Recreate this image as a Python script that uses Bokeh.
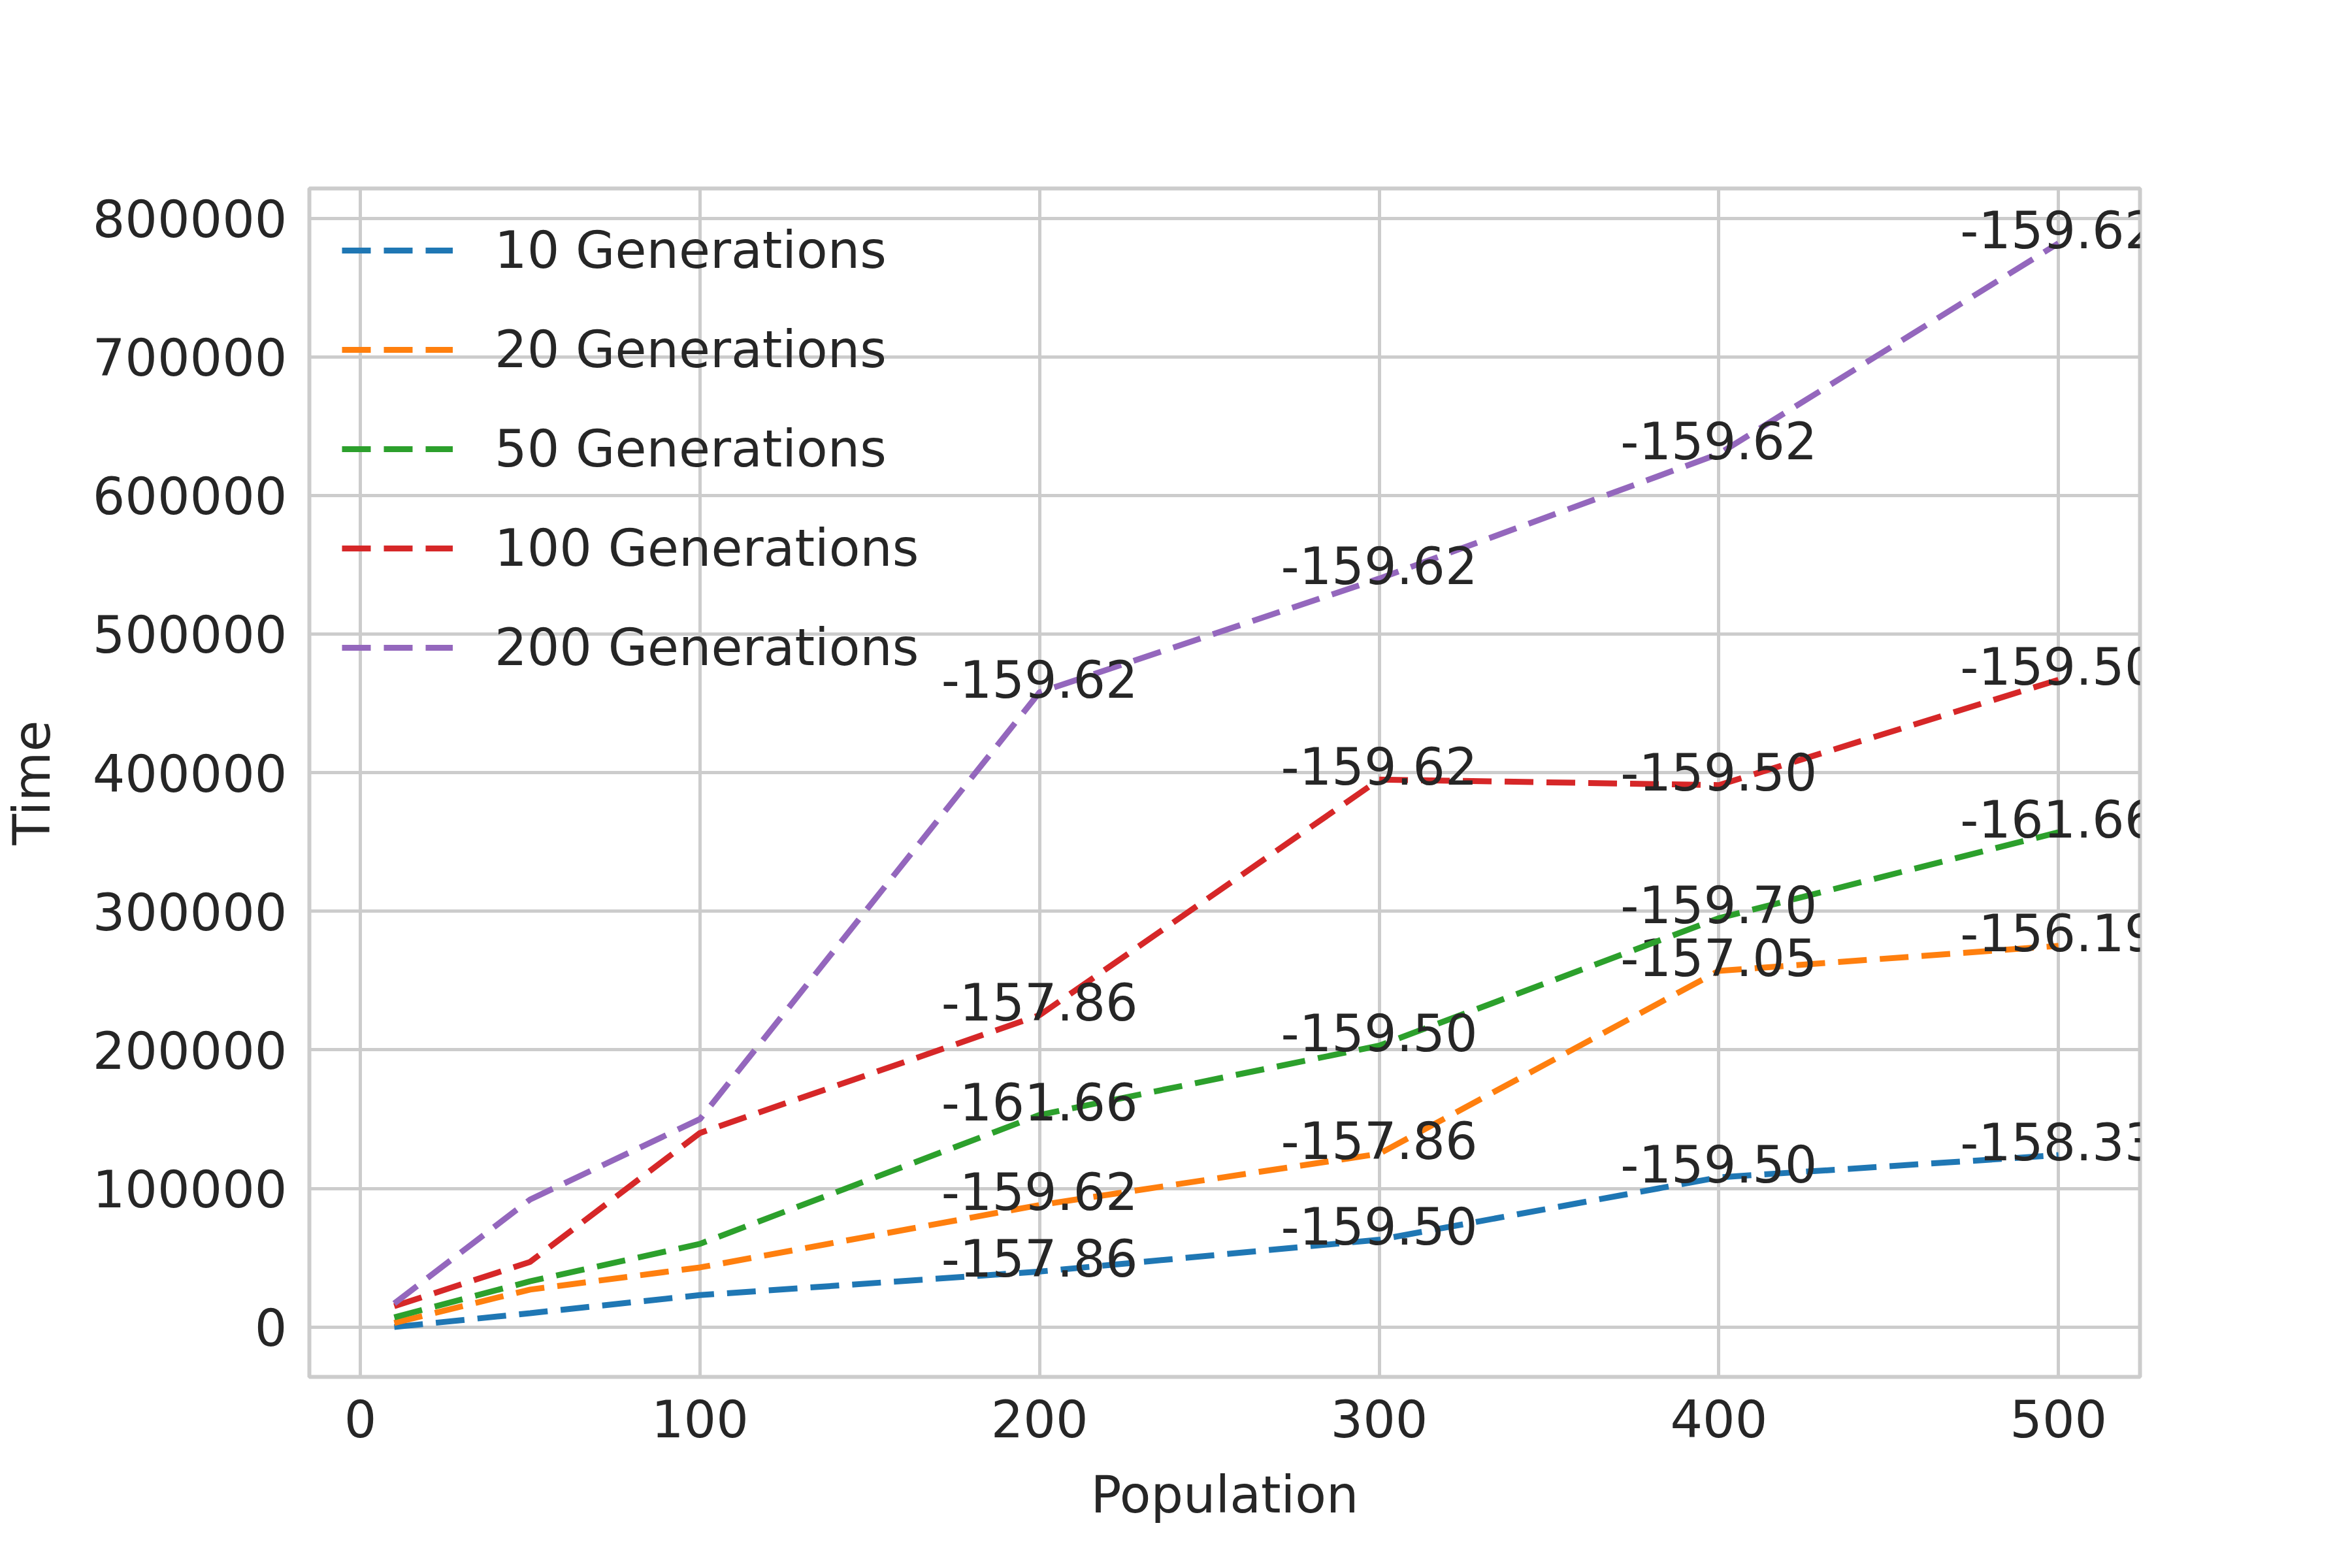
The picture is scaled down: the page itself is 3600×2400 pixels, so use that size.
from bokeh.plotting import figure
from bokeh.models import Legend, LegendItem, Range1d, ColumnDataSource
from bokeh.embed import file_html
from bokeh.resources import INLINE

population = [10, 50, 100, 200, 300, 400, 500]
series_names = ["10 Generations", "20 Generations", "50 Generations",
                "100 Generations", "200 Generations"]
times = [
    [0, 10000, 23000, 40000, 63000, 108000, 124000],
    [3000, 27000, 43000, 88000, 125000, 257000, 275000],
    [7000, 33000, 60000, 153000, 203000, 295000, 357000],
    [15000, 47000, 140000, 225000, 395000, 391000, 467000],
    [17000, 92000, 150000, 458000, 540000, 630000, 782000],
]
# fitness labels shown at population 200..500
fitness = [
    ["-157.86", "-159.50", "-159.50", "-158.33"],
    ["-159.62", "-157.86", "-157.05", "-156.19"],
    ["-161.66", "-159.50", "-159.70", "-161.66"],
    ["-157.86", "-159.62", "-159.50", "-159.50"],
    ["-159.62", "-159.62", "-159.62", "-159.62"],
]
colors = ["#1f77b4", "#ff7f0e", "#2ca02c", "#d62728", "#9467bd"]

FONT = "DejaVu Sans"
TXT = "#262626"
FS = "78px"

p = figure(frame_width=2802, frame_height=1819, output_backend="svg",
           toolbar_location=None, min_border_left=452, min_border_right=338,
           min_border_top=288, min_border_bottom=285,
           x_range=Range1d(-15, 524), y_range=Range1d(-36000, 821500))
p.outline_line_color = "#cccccc"
p.outline_line_width = 6
p.grid.grid_line_color = "#cccccc"
p.grid.grid_line_width = 5
p.xaxis.ticker = [0, 100, 200, 300, 400, 500]
p.yaxis.ticker = list(range(0, 800001, 100000))
p.yaxis.formatter.use_scientific = False
for ax in (p.xaxis, p.yaxis):
    ax.axis_line_color = None
    ax.major_tick_line_color = None
    ax.minor_tick_line_color = None
    ax.major_label_text_font = FONT
    ax.major_label_text_font_size = FS
    ax.major_label_text_color = TXT
    ax.axis_label_text_font = FONT
    ax.axis_label_text_font_size = FS
    ax.axis_label_text_color = TXT
    ax.axis_label_text_font_style = "normal"
    ax.major_label_standoff = 28
p.xaxis.axis_label = "Population"
p.yaxis.axis_label = "Time"
p.xaxis.axis_label_standoff = 40
p.yaxis.axis_label_standoff = 45

items = []
for name, ys, labs, c in zip(series_names, times, fitness, colors):
    r = p.line(population, ys, line_color=c, line_width=9, line_dash="44 20")
    items.append(LegendItem(label=name, renderers=[r]))
    src = ColumnDataSource(dict(x=population[3:], y=ys[3:], t=labs))
    p.text("x", "y", text="t", source=src, text_align="center",
           text_baseline="bottom", y_offset=8, text_font_size=FS,
           text_color=TXT, text_font={"value": FONT})

legend = Legend(items=items, location="top_left", border_line_color=None,
                background_fill_alpha=0, label_text_font=FONT,
                label_text_font_size=FS, label_text_color=TXT,
                glyph_width=170, glyph_height=60, spacing=62,
                label_standoff=64, margin=50, padding=30)
p.add_layout(legend)

open("out.html", "w").write(file_html(p, INLINE))
